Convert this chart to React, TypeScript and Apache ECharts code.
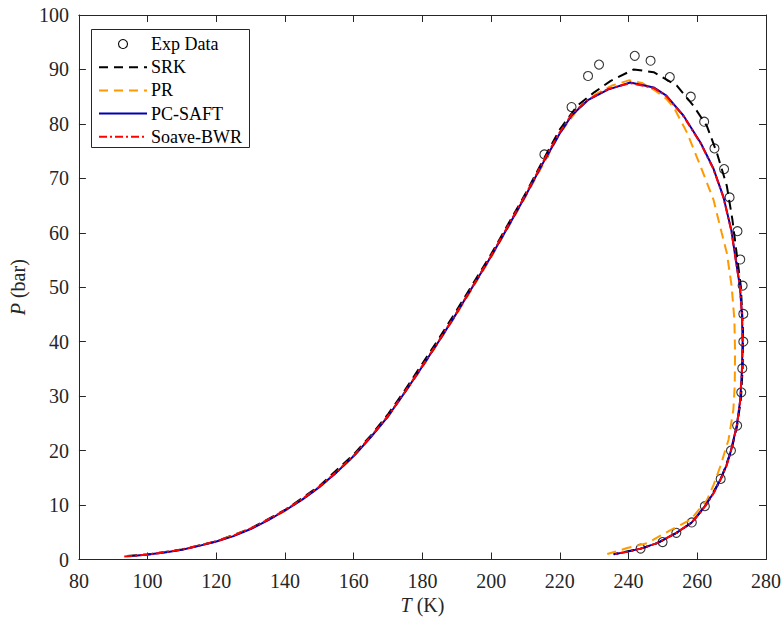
import React, { useEffect, useRef } from "react";
import * as echarts from "echarts";

const expData: number[][] = [
  [215.5, 74.4], [223.4, 83.1], [228.2, 88.8], [231.4, 90.9], [241.8, 92.5],
  [246.4, 91.6], [252.0, 88.6], [258.1, 85.0], [262.0, 80.4], [265.0, 75.5],
  [267.8, 71.7], [269.4, 66.5], [271.7, 60.3], [272.5, 55.1], [273.2, 50.3],
  [273.4, 45.1], [273.4, 40.0], [273.1, 35.1], [272.8, 30.7], [271.6, 24.6],
  [269.8, 20.0], [266.8, 14.8], [262.2, 9.8], [258.4, 6.8], [253.9, 4.9],
  [249.9, 3.2], [243.5, 2.0],
];

const srk: number[][] = [
  [94, 0.65], [100, 0.92], [110, 1.85], [120, 3.35], [130, 5.7], [140, 9.1],
  [150, 13.5], [160, 19.3], [165, 22.8], [170, 26.7], [175, 31.2], [180, 36.0],
  [185, 40.8], [190, 45.8], [200, 56.1], [210, 67.2], [215.5, 73.8], [220, 79.0],
  [225, 83.3], [230, 85.8], [234.8, 87.9], [241.5, 90.0], [247.3, 89.5],
  [254.1, 87.0], [258.9, 83.3], [262.8, 79.6], [265.7, 74.7], [268.6, 68.6],
  [270.2, 62.5], [271.6, 55.5], [272.7, 50], [273.3, 42], [273.2, 35],
  [272.7, 29.5], [271.6, 24.6], [269.9, 20.0], [266.9, 14.8], [262.3, 9.8],
  [258.5, 6.8], [254, 4.9], [248.4, 3.0], [243.6, 2.0], [235.6, 0.95],
];

const pr: number[][] = [
  [94, 0.6], [100, 0.88], [110, 1.8], [120, 3.3], [130, 5.6], [140, 8.9],
  [150, 13.2], [160, 18.9], [170, 26.2], [180, 35.3], [190, 45.1], [200, 55.5],
  [210, 66.6], [215.5, 73.0], [220, 78.2], [225, 82.5], [230, 85.3], [235, 87.0],
  [240.1, 88.0], [244, 87.5], [248, 86.0], [251, 84.6], [253.2, 83.0],
  [257.0, 78.4], [260.9, 72.3], [264.7, 66.1], [267.1, 60.0], [268.6, 56.3],
  [270.0, 50.2], [270.8, 44], [271.0, 38], [270.9, 32], [270.5, 27.5],
  [269.1, 22.0], [266.7, 17.1], [264.8, 13.8], [262.8, 10.9], [258.0, 7.3],
  [252.2, 5.4], [245.4, 3.0], [239.6, 2.1], [233.8, 1.0],
];

const pcSaft: number[][] = [
  [94.5, 0.62], [97, 0.75], [100, 0.9], [105, 1.3], [110, 1.8], [115, 2.5],
  [120, 3.3], [125, 4.3], [130, 5.6], [135, 7.2], [140, 9.0], [145, 11.0],
  [150, 13.3], [155, 16.0], [160, 19.0], [165, 22.5], [170, 26.3], [175, 30.8],
  [180, 35.5], [185, 40.3], [190, 45.3], [195, 50.5], [200, 55.7], [205, 61.2],
  [210, 66.8], [215.5, 73.3], [220, 78.3], [223.5, 81.6], [228, 84.3],
  [234, 86.3], [240.5, 87.6], [247.3, 86.7], [251, 85.2], [256, 81.5],
  [261, 76.5], [264.7, 71.8], [267.6, 66.6], [269.9, 60.5], [271.2, 55.1],
  [272.4, 50.2], [273.0, 45], [273.2, 40], [273.0, 34.9], [272.5, 29.3],
  [271.5, 24.6], [269.8, 20.0], [268.5, 17.3], [266.8, 14.8], [264.8, 12.3],
  [262.2, 9.8], [258.4, 6.8], [253.9, 4.9], [248.3, 3.0], [243.5, 2.0],
  [239.5, 1.4], [235.7, 0.95],
];

const soaveBwr: number[][] = [
  [93.2, 0.55], [97, 0.72], [100, 0.9], [105, 1.32], [110, 1.85], [115, 2.55],
  [120, 3.35], [125, 4.4], [130, 5.7], [135, 7.3], [140, 9.1], [145, 11.1],
  [150, 13.4], [155, 16.1], [160, 19.1], [165, 22.6], [170, 26.4], [175, 30.9],
  [180, 35.6], [185, 40.4], [190, 45.4], [195, 50.6], [200, 55.8], [205, 61.4],
  [210, 67.0], [215.5, 73.5], [220, 78.5], [223.5, 81.8], [228, 84.4],
  [234, 86.4], [240.5, 87.5], [247.3, 86.6], [251, 85.1], [256, 81.4],
  [261, 76.4], [264.7, 71.7], [267.6, 66.5], [269.9, 60.4], [271.2, 55.0],
  [272.4, 50.1], [273.0, 45], [273.2, 40], [273.0, 34.8], [272.5, 29.2],
  [271.5, 24.5], [269.8, 19.9], [268.5, 17.2], [266.8, 14.7], [264.8, 12.2],
  [262.2, 9.7], [258.4, 6.8], [253.9, 4.9], [248.3, 3.0], [243.5, 2.0],
  [239.5, 1.4], [235.5, 0.95],
];

const legendNames = ["Exp Data", "SRK", "PR", "PC-SAFT", "Soave-BWR"];
const xTicks = { min: 80, max: 280, interval: 20 };
const yTicks = { min: 0, max: 100, interval: 10 };

const FONT = "Liberation Serif";
const AXIS = "#262626";
const C_SRK = "#000000";
const C_PR = "#FF9900";
const C_PC = "#0000B3";
const C_SB = "#FF0000";

export default function App() {
  const ref = useRef<HTMLDivElement>(null);
  useEffect(() => {
    if (!ref.current) return;
    const chart = echarts.init(ref.current, null, { renderer: "svg" });

    const axisCommon = {
      type: "value" as const,
      axisLine: { show: true, onZero: false, lineStyle: { color: AXIS, width: 1 } },
      axisTick: { show: true, inside: true, length: 7, lineStyle: { color: AXIS, width: 1 } },
      splitLine: { show: false },
    };

    const legendX0 = 99;
    const legendX1 = 147;
    const legendY = (i: number) => 44 + i * 23.2;
    const lineStyles = [
      null,
      { stroke: C_SRK, lineDash: [9, 6] },
      { stroke: C_PR, lineDash: [9, 6] },
      { stroke: C_PC, lineDash: null },
      { stroke: C_SB, lineDash: [8, 3, 2, 3] },
    ];
    const legendEls: any[] = [
      {
        type: "rect",
        shape: { x: 91.5, y: 29.5, width: 158, height: 118 },
        style: { fill: "#fff", stroke: AXIS, lineWidth: 1 },
        z: 100,
      },
    ];
    legendNames.forEach((name, i) => {
      const y = legendY(i);
      if (i === 0) {
        legendEls.push({
          type: "circle",
          shape: { cx: 123, cy: y, r: 4.5 },
          style: { fill: "none", stroke: "#000", lineWidth: 1.1 },
          z: 101,
        });
      } else {
        const ls = lineStyles[i]!;
        legendEls.push({
          type: "line",
          shape: { x1: legendX0, y1: y, x2: legendX1, y2: y },
          style: { stroke: ls.stroke, lineWidth: 2, lineDash: ls.lineDash },
          z: 101,
        });
      }
      legendEls.push({
        type: "text",
        x: 151,
        y: y,
        style: {
          text: name,
          fontSize: 18,
          fontFamily: FONT,
          fill: "#000",
          verticalAlign: "middle",
          align: "left",
        },
        z: 101,
      });
    });

    const labelStyle = { fontSize: 20, fontFamily: FONT, color: AXIS };

    chart.setOption({
      animation: false,
      backgroundColor: "#fff",
      textStyle: { fontFamily: FONT },
      grid: { left: 76, right: 18, top: 15, bottom: 63.5, containLabel: false },
      xAxis: [
        {
          ...axisCommon,
          ...xTicks,
          position: "bottom",
          axisLabel: { margin: 11, ...labelStyle },
          name: "{i|T} (K)",
          nameLocation: "middle",
          nameGap: 35,
          nameTextStyle: {
            ...labelStyle,
            rich: { i: { fontStyle: "italic", ...labelStyle } },
          },
        },
        {
          ...axisCommon,
          ...xTicks,
          position: "top",
          axisLabel: { show: false },
        },
      ],
      yAxis: [
        {
          ...axisCommon,
          ...yTicks,
          position: "left",
          axisLabel: { margin: 10, ...labelStyle },
          name: "{i|P} (bar)",
          nameLocation: "middle",
          nameGap: 45,
          nameTextStyle: {
            ...labelStyle,
            rich: { i: { fontStyle: "italic", ...labelStyle } },
          },
        },
        {
          ...axisCommon,
          ...yTicks,
          position: "right",
          axisLabel: { show: false },
        },
      ],
      series: [
        {
          name: "Exp Data",
          type: "scatter",
          data: expData,
          symbol: "circle",
          symbolSize: 9,
          itemStyle: { color: "rgba(0,0,0,0)", borderColor: "#000", borderWidth: 1.1 },
          z: 2,
        },
        {
          name: "SRK",
          type: "line",
          data: srk,
          symbol: "none",
          lineStyle: { color: C_SRK, width: 2, type: [10, 6] },
          z: 3,
        },
        {
          name: "PR",
          type: "line",
          data: pr,
          symbol: "none",
          lineStyle: { color: C_PR, width: 2, type: [10, 6] },
          z: 4,
        },
        {
          name: "PC-SAFT",
          type: "line",
          data: pcSaft,
          symbol: "none",
          lineStyle: { color: C_PC, width: 2 },
          z: 5,
        },
        {
          name: "Soave-BWR",
          type: "line",
          data: soaveBwr,
          symbol: "none",
          lineStyle: { color: C_SB, width: 2, type: [8, 3, 2, 3] },
          z: 6,
        },
      ],
      graphic: legendEls,
    });

    return () => chart.dispose();
  }, []);

  return (
    <div
      ref={ref}
      style={{ position: "fixed", left: 0, top: 0, width: 784, height: 623 }}
    />
  );
}
